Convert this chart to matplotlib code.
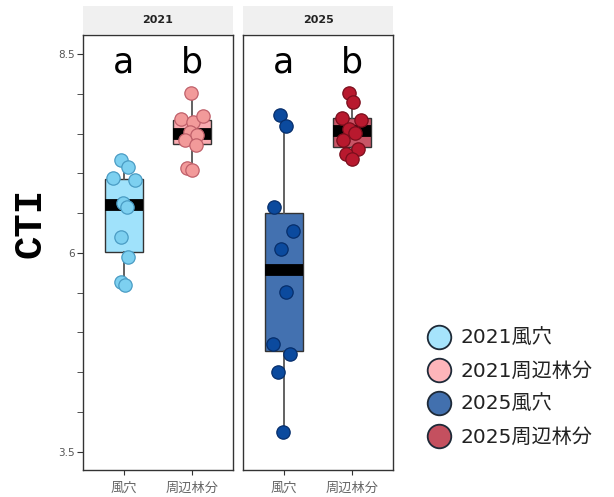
import matplotlib
matplotlib.use("Agg")
import matplotlib.pyplot as plt
from matplotlib.lines import Line2D
import numpy as np

# ---- data ----
years = ["2021", "2025"]
categories = ["風穴", "周辺林分"]
legend_labels = ["2021風穴", "2021周辺林分", "2025風穴", "2025周辺林分"]
letters = ["a", "b"]

cti_2021_fuketsu = [7.17, 7.08, 6.94, 6.92, 6.63, 6.58, 6.20, 5.95, 5.64, 5.60]
cti_2021_forest = [8.01, 7.68, 7.64, 7.72, 7.52, 7.48, 7.42, 7.36, 7.07, 7.04]
cti_2025_fuketsu = [7.73, 7.60, 6.58, 6.28, 6.05, 5.51, 4.86, 4.73, 4.50, 3.75]
cti_2025_forest = [8.01, 7.90, 7.70, 7.67, 7.56, 7.51, 7.42, 7.31, 7.24, 7.18]

# horizontal jitter (pixels) for the dots, paired with values above
jit_2021_fuketsu = [-3, 4, -11, 11, -1, 3, -3, 4, -3, 1]
jit_2021_forest = [-1, -11, 1, 11, -2, 5, -7, 4, -5, 0]
jit_2025_fuketsu = [-4, 2, -10, 9, -3, 2, -11, 6, -6, -1]
jit_2025_forest = [-3, 1, -10, 9, -3, 3, -9, 6, -6, 0]

y_ticks_major = [3.5, 6, 8.5]
y_ticks_minor = [4.0, 4.5, 5.0, 5.5, 6.5, 7.0, 7.5, 8.0]

# ---- styles ----
box_fill = [["#A0E2FB", "#F8ABB0"], ["#4371B0", "#C85566"]]
pt_fill = [["#7DD0F0", "#F29A9A"], ["#0B4A9E", "#B8192E"]]
pt_edge = [["#4A9CC4", "#C0606A"], ["#062E6B", "#7A0E1C"]]
legend_fill = ["#A6E4FC", "#FDB5BA", "#4270AE", "#C4505F"]

plt.rcParams['font.family'] = ['Noto Sans CJK JP', 'DejaVu Sans']

W, H = 614, 497
fig = plt.figure(figsize=(W / 100, H / 100), dpi=100)

def fx(px):
    return px / W

def fy(py):
    return 1 - py / H

panel_x = [(83, 233), (243, 393)]
top_px, bot_px = 35, 470
data = [[cti_2021_fuketsu, cti_2021_forest], [cti_2025_fuketsu, cti_2025_forest]]
jits = [[jit_2021_fuketsu, jit_2021_forest], [jit_2025_fuketsu, jit_2025_forest]]

xlim = (0.4, 2.6)
ylim = (3.27, 8.74)

for p, (x0, x1) in enumerate(panel_x):
    ax = fig.add_axes([fx(x0), fy(bot_px), fx(x1 - x0), (bot_px - top_px) / H])
    ax.set_xlim(*xlim)
    ax.set_ylim(*ylim)
    px_per_unit = (x1 - x0) / (xlim[1] - xlim[0])
    for c in range(2):
        vals = data[p][c]
        ax.boxplot([vals], positions=[c + 1], widths=0.56, patch_artist=True,
                   showfliers=False, whis=1.5,
                   boxprops=dict(facecolor=box_fill[p][c], edgecolor="#333333", linewidth=1.0),
                   whiskerprops=dict(color="#555555", linewidth=1.3),
                   capprops=dict(linewidth=0),
                   medianprops=dict(color="black", linewidth=8.5, solid_capstyle="butt"))
        xs = (c + 1) + np.array(jits[p][c]) / px_per_unit
        ax.scatter(xs, vals, s=92, color=pt_fill[p][c], edgecolor=pt_edge[p][c],
                   linewidth=0.9, zorder=5)
        ax.text(c + 1, 8.39, letters[c], ha="center", va="center", fontsize=25,
                family=["DejaVu Sans"], color="black")
    for s in ax.spines.values():
        s.set_color("#333333")
        s.set_linewidth(1.0)
    ax.set_xticks([1, 2])
    ax.set_xticklabels(categories, fontsize=9.5, color="#666666")
    ax.tick_params(axis="x", length=3.5, color="#333333", pad=5)
    if p == 0:
        ax.set_yticks(y_ticks_major)
        ax.set_yticklabels(["3.5", "6", "8.5"], fontsize=7.5, color="#555555",
                           family=["DejaVu Sans"])
        ax.set_yticks(y_ticks_minor, minor=True)
        ax.tick_params(axis="y", which="both", length=4, color="#333333", pad=2)
    else:
        ax.set_yticks([])
    # strip
    sax = fig.add_axes([fx(x0), fy(34), fx(x1 - x0), 28 / H])
    sax.set_facecolor("#F0F0F0")
    sax.set_xticks([])
    sax.set_yticks([])
    for s in sax.spines.values():
        s.set_visible(False)
    sax.text(0.5, 0.5, years[p], ha="center", va="center", fontsize=8,
             fontweight="bold", color="#222222", family=["DejaVu Sans"],
             transform=sax.transAxes)

fig.text(fx(30), fy(223), "CTI", rotation=90, ha="center", va="center",
         fontsize=28, fontweight="bold", family=["Liberation Mono", "DejaVu Sans Mono"])

handles = [Line2D([0], [0], marker="o", linestyle="", markersize=17,
                  markerfacecolor=col, markeredgecolor="#1E2A38", markeredgewidth=1.3)
           for col in legend_fill]
leg = fig.legend(handles, legend_labels, loc="center left",
                 bbox_to_anchor=(fx(410), fy(388)), frameon=False,
                 prop={"family": ["DejaVu Sans", "Noto Sans CJK JP"], "size": 14.5},
                 handlelength=1.1, handletextpad=0.5, labelspacing=0.7,
                 labelcolor="#222222")

fig.savefig("out.png", dpi=100)
